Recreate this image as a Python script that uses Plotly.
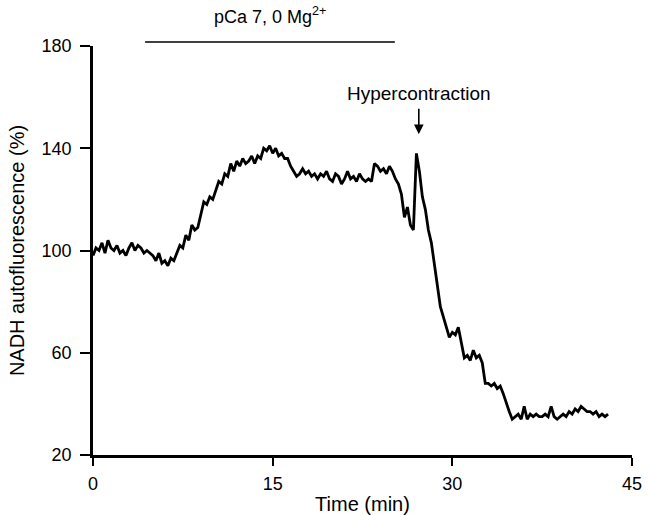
import numpy as np
import plotly.graph_objects as go

# time grid (min), 0.25 min sampling
time_min = [i * 0.25 for i in range(174)]

nadh_pct = [
    # 0 - 4.75
    98, 101, 100, 103, 99, 104, 101, 100, 102, 99, 100, 98, 101, 103, 100, 102, 101, 99, 100, 99,
    # 5.0 - 6.5
    98, 96, 99, 95, 96, 94, 97,
    # 6.75 - 7.25
    96, 99, 102,
    # 7.5 - 16.25
    101, 106, 104, 110, 108, 109, 114, 119, 118, 121, 120, 124, 127, 126, 130, 129, 134, 131,
    135, 133, 136, 134, 135, 137, 134, 137, 136, 140, 139, 141, 138, 140, 137, 138, 136, 136,
    # 16.5 - 25.0
    133, 131, 129, 130, 132, 130, 131, 129, 130, 128, 130, 129, 131, 128, 127, 130, 129, 126,
    128, 131, 128, 129, 127, 130, 128, 127, 128, 127, 134, 133, 131, 132, 130, 133, 131,
    # 25.25 - 27.75
    128, 126, 122, 113, 117, 110, 108, 138, 131, 121,
    # 28.0 - 30.75
    116, 108, 103, 94, 86, 78, 74, 70, 66, 68, 67, 70,
    # 31.0 - 34.75
    64, 58, 59, 57, 61, 58, 59, 56, 48, 48, 47, 48, 46, 47, 44, 40,
    # 35.0 - 43.25
    37, 34, 35, 36, 34, 39, 34, 36, 35, 36, 35, 35, 36, 35, 39, 35, 34, 35, 36, 35,
    37, 36, 38, 37, 39, 38, 37, 37, 36, 37, 35, 36, 35, 36,
]

x_ticks = [0, 15, 30, 45]
y_ticks = [20, 60, 100, 140, 180]

n = min(len(time_min), len(nadh_pct))
time_min = time_min[:n]
nadh_pct = nadh_pct[:n]

FONT = "Liberation Sans, Arial, Helvetica, sans-serif"
FS_TICK = 18
FS_TEXT = 20

fig = go.Figure()
fig.add_trace(go.Scatter(
    x=time_min, y=nadh_pct, mode="lines",
    line=dict(color="black", width=2.8),
    showlegend=False, hoverinfo="skip",
))

# pCa bar above the plot
fig.add_shape(type="line", xref="x", yref="paper",
              x0=4.35, x1=25.2, y0=1.0098, y1=1.0098,
              line=dict(color="black", width=1.5))
fig.add_annotation(text="pCa 7, 0 Mg<sup>2+</sup>", xref="x", yref="paper",
                   x=14.8, y=1.042, yanchor="bottom", showarrow=False,
                   font=dict(family=FONT, size=FS_TICK, color="black"))

# Hypercontraction arrow
fig.add_annotation(text="Hypercontraction", xref="x", yref="y",
                   x=27.2, y=161.5, showarrow=False,
                   font=dict(family=FONT, size=FS_TEXT - 1, color="black"))
fig.add_annotation(text="", xref="x", yref="y", axref="x", ayref="y",
                   x=27.2, y=145.5, ax=27.2, ay=156,
                   showarrow=True, arrowhead=2, arrowsize=1.2, arrowwidth=1.6,
                   arrowcolor="black")

fig.update_layout(
    width=650, height=515,
    margin=dict(l=93, r=18, t=46, b=60),
    paper_bgcolor="white", plot_bgcolor="white",
    font=dict(family=FONT, size=FS_TICK, color="black"),
    xaxis=dict(range=[0, 45], tickvals=x_ticks, ticks="outside", ticklen=8,
               tickwidth=2, tickcolor="black", showline=True, linewidth=2.5,
               linecolor="black", showgrid=False, zeroline=False,
               ticklabelstandoff=3, automargin=False,
               title=dict(text="Time (min)", standoff=4,
                          font=dict(family=FONT, size=FS_TEXT))),
    yaxis=dict(range=[20, 180], tickvals=y_ticks, ticks="outside", ticklen=10,
               tickwidth=2, tickcolor="black", showline=True, linewidth=2.5,
               linecolor="black", showgrid=False, zeroline=False,
               ticklabelstandoff=5, automargin=False,
               title=dict(text="NADH autofluorescence (%)", standoff=12,
                          font=dict(family=FONT, size=FS_TEXT))),
)

fig.write_html("out.html")
